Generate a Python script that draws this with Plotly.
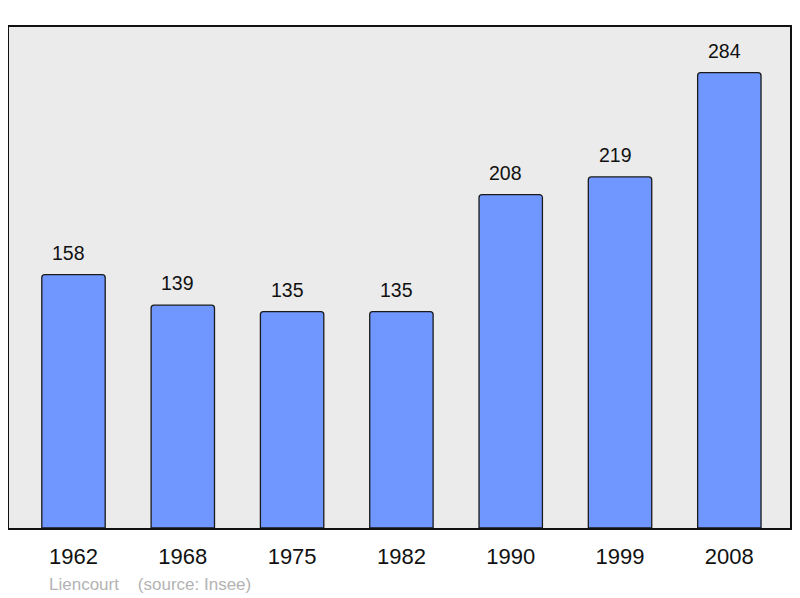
import plotly.graph_objects as go

years = ["1962", "1968", "1975", "1982", "1990", "1999", "2008"]
population = [158, 139, 135, 135, 208, 219, 284]
commune = "Liencourt"
source_note = "(source: Insee)"

xs = list(range(len(years)))

fig = go.Figure()
fig.add_trace(go.Bar(
    x=xs, y=population, width=0.58,
    marker=dict(color="#7097ff", line=dict(color="#1a1a1a", width=1.3)),
    hoverinfo="skip",
))

for i, v in enumerate(population):
    fig.add_annotation(x=i, y=v, text=str(v), showarrow=False,
                       yanchor="middle", yshift=22, xshift=-5,
                       font=dict(family="Liberation Sans, Arial", size=19.5, color="#111111"))

fig.add_annotation(xref="paper", yref="paper", x=0.049, y=-0.112, xanchor="left", yanchor="middle",
                   text=commune + "&nbsp;&nbsp;&nbsp;&nbsp;" + source_note, showarrow=False,
                   font=dict(family="Liberation Sans, Arial", size=17, color="#b3b3b3"))

fig.update_layout(
    width=800, height=598,
    margin=dict(l=1, r=18, t=19, b=78),
    paper_bgcolor="white", plot_bgcolor="#ebebeb",
    showlegend=False, barcornerradius=3,
    xaxis=dict(range=[-0.59, 6.555], tickmode="array", tickvals=xs, ticktext=years,
               showgrid=False, zeroline=False, showline=True, mirror=True,
               linecolor="#111111", linewidth=2, ticks="", ticklen=0, ticklabelstandoff=8,
               tickfont=dict(family="Liberation Sans, Arial", size=22, color="#111111")),
    yaxis=dict(range=[0, 312.5], showgrid=False, zeroline=False, showticklabels=False,
               showline=True, mirror=True, linecolor="#111111", linewidth=2, ticks=""),
)
fig.write_html("out.html")
